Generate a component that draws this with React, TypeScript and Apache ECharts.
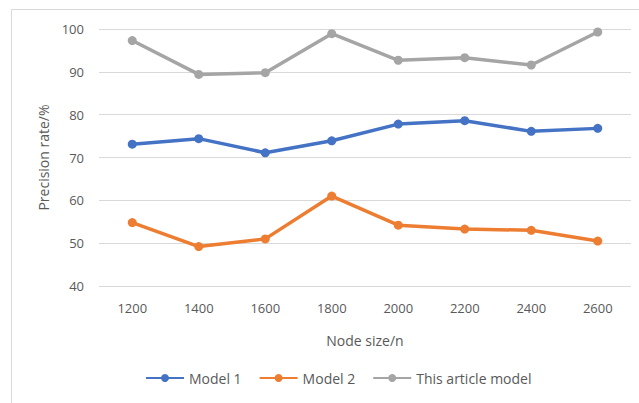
import React, { useEffect, useRef } from "react";
import * as echarts from "echarts";

const categories = ["1200", "1400", "1600", "1800", "2000", "2200", "2400", "2600"];
const model1 = [73.1, 74.4, 71.1, 73.9, 77.8, 78.6, 76.1, 76.8];
const model2 = [54.8, 49.2, 51.0, 61.0, 54.2, 53.3, 53.0, 50.5];
const thisModel = [97.3, 89.4, 89.8, 98.9, 92.7, 93.3, 91.6, 99.3];
const seriesNames = ["Model 1", "Model 2", "This article model"];
const colors = ["#4472C4", "#ED7D31", "#A5A5A5"];

export default function App() {
  const ref = useRef<HTMLDivElement>(null);
  useEffect(() => {
    document.body.style.margin = "0";
    const chart = echarts.init(ref.current!, null, { renderer: "svg" });
    const font = "Open Sans";
    const mk = (name: string, data: number[], color: string) => ({
      name,
      type: "line",
      data,
      symbol: "circle",
      symbolSize: 9,
      lineStyle: { width: 3.5, color },
      itemStyle: { color },
    });
    chart.setOption({
      animation: false,
      backgroundColor: "#fff",
      textStyle: { fontFamily: font },
      graphic: [
        {
          type: "rect",
          shape: { x: 11.5, y: 9.5, width: 700, height: 500 },
          style: { fill: "none", stroke: "#D9D9D9", lineWidth: 1 },
          silent: true,
        },
      ],
      grid: { left: 99, right: 8, top: 29, bottom: 117, containLabel: false },
      legend: {
        bottom: 13,
        left: 140,
        itemWidth: 38,
        itemHeight: 10,
        itemGap: 17,
        textStyle: { color: "#595959", fontSize: 14, fontFamily: font },
        data: seriesNames,
      },
      xAxis: {
        type: "category",
        data: categories,
        boundaryGap: true,
        name: "Node size/n",
        nameLocation: "middle",
        nameGap: 47,
        nameTextStyle: { color: "#595959", fontSize: 14, fontFamily: font },
        axisLine: { show: false },
        axisTick: { show: false },
        axisLabel: { color: "#595959", fontSize: 13, margin: 15, fontFamily: font },
      },
      yAxis: {
        type: "value",
        min: 40,
        max: 100,
        interval: 10,
        name: "Precision rate/%",
        nameLocation: "middle",
        nameGap: 48,
        nameTextStyle: { color: "#595959", fontSize: 14, fontFamily: font },
        axisLine: { show: false },
        axisTick: { show: false },
        axisLabel: { color: "#595959", fontSize: 13, margin: 15, fontFamily: font },
        splitLine: { lineStyle: { color: "#D9D9D9", width: 1 } },
      },
      series: [
        mk(seriesNames[0], model1, colors[0]),
        mk(seriesNames[1], model2, colors[1]),
        mk(seriesNames[2], thisModel, colors[2]),
      ],
    });
    return () => chart.dispose();
  }, []);
  return <div ref={ref} style={{ width: 639, height: 403 }} />;
}
